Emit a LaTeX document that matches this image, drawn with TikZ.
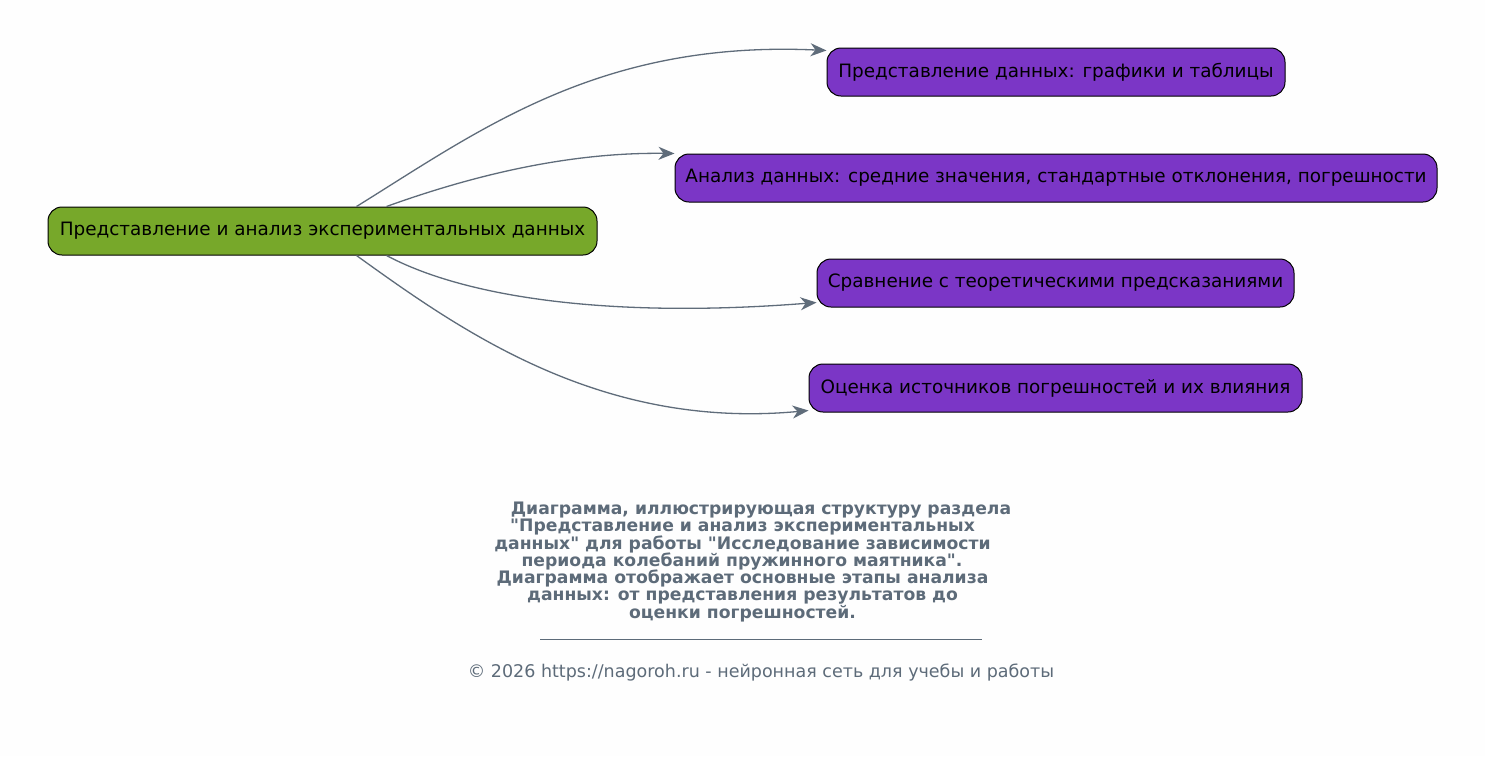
\documentclass[tikz,border=0pt]{standalone}
\usepackage{fontspec}
\setmainfont{DejaVu Sans}[Ligatures=TeXOff]
\usetikzlibrary{arrows.meta}
\definecolor{bgc}{RGB}{254,254,254}
\definecolor{rootc}{RGB}{119,168,42}
\definecolor{leafc}{RGB}{123,54,198}
\definecolor{edgec}{RGB}{95,108,122}
\definecolor{capc}{RGB}{93,107,121}
\tikzset{
  box/.style={draw=black, line width=1pt, rounded corners=14pt, minimum height=48pt, inner sep=0pt, font=\fontsize{18.4}{22}\selectfont, text=black},
  rootbox/.style={box, fill=rootc},
  leafbox/.style={box, fill=leafc},
  conn/.style={draw=edgec, line width=1.3pt, -{Stealth[length=16pt,width=13pt,inset=5pt]}},
  capline/.style={text=capc, font=\fontsize{17.2}{19}\bfseries\selectfont, anchor=base, inner sep=0pt},
  foot/.style={text=capc, font=\fontsize{17.5}{19}\selectfont, anchor=base, inner sep=0pt}
}
\begin{document}
\begin{tikzpicture}[x=1pt,y=-1pt]
\fill[bgc] (0,0) rectangle (1485,756);
\useasboundingbox (0,0) rectangle (1485,756);
\node[rootbox, minimum width=549pt] (root) at (322.5,231) {Представление и анализ экспериментальных данных};
\node[leafbox, minimum width=458pt] (n1) at (1056,72) {Представление данных: графики и таблицы};
\node[leafbox, minimum width=762pt] (n2) at (1056,178) {Анализ данных: средние значения, стандартные отклонения, погрешности};
\node[leafbox, minimum width=477pt] (n3) at (1055.5,283) {Сравнение с теоретическими предсказаниями};
\node[leafbox, minimum width=493pt] (n4) at (1055.5,388) {Оценка источников погрешностей и их влияния};
\draw[conn] ([xshift=309pt]root.north west) .. controls (480,130) and (600,40) .. ([yshift=-3pt]n1.north west);
\draw[conn] ([xshift=339pt]root.north west) .. controls (460,180) and (560,152) .. (n2.north west);
\draw[conn] ([xshift=339pt]root.south west) .. controls (470,300) and (620,318) .. ([yshift=5pt]n3.south west);
\draw[conn] ([xshift=309pt]root.south west) .. controls (460,330) and (600,430) .. ([yshift=2pt]n4.south west);
\node[capline] (c1) at (761,514) {Диаграмма, иллюстрирующая структуру раздела};
\node[capline] (c2) at (742.5,531) {"Представление и анализ экспериментальных};
\node[capline] (c3) at (742.5,549) {данных" для работы "Исследование зависимости};
\node[capline] (c4) at (742,566) {периода колебаний пружинного маятника".};
\node[capline] (c5) at (742.5,583) {Диаграмма отображает основные этапы анализа};
\node[capline] (c6) at (742.5,600) {данных: от представления результатов до};
\node[capline] (c7) at (742.5,618) {оценки погрешностей.};
\coordinate (r1) at (540,639);
\coordinate (r2) at (982,639);
\draw[capc, line width=0.8pt] (r1) -- (r2);
\node[foot] (ft) at (761,677) {© 2026 https://nagoroh.ru - нейронная сеть для учебы и работы};
\end{tikzpicture}
\end{document}
